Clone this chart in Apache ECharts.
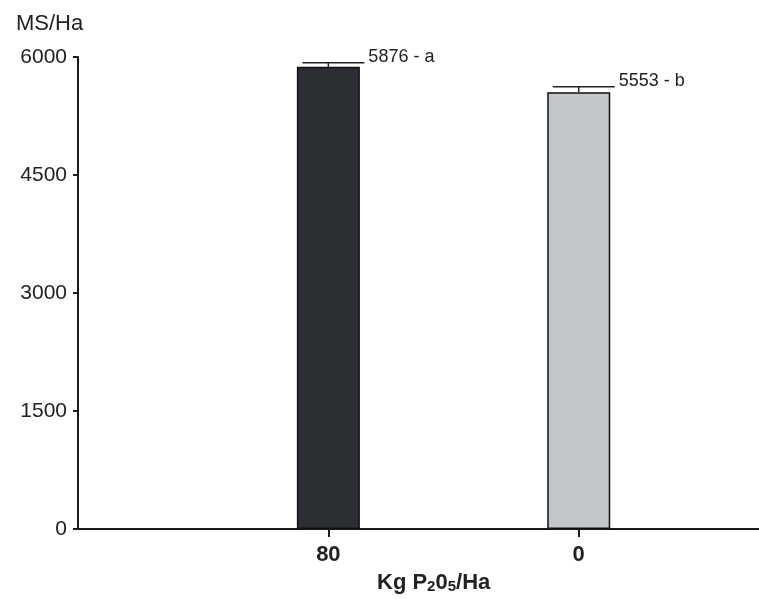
<!DOCTYPE html>
<html>
<head>
<meta charset="utf-8">
<script src="https://cdn.jsdelivr.net/npm/echarts@6/dist/echarts.min.js"></script>
<style>html,body{margin:0;padding:0;background:#fff;overflow:hidden}#c{width:759px;height:599px}</style>
</head>
<body>
<div id="c"></div>
<script>
var categories = ['80', '0'];
var values = [5876, 5553];
var errors = [50, 70];
var labels = ['5876 - a', '5553 - b'];
var barColors = ['#2b2f33', '#c2c6ca'];
var yTicks = [0, 1500, 3000, 4500, 6000];

var chart = echarts.init(document.getElementById('c'), null, {renderer: 'canvas'});
var font = '"Liberation Sans", Arial, sans-serif';

// category i is placed at position i+1 on the x axis
var positions = categories.map(function (c, i) { return i + 1; });
var barData = values.map(function (v, i) {
  return {value: [positions[i], v], itemStyle: {color: barColors[i]}};
});
var errData = values.map(function (v, i) {
  return [positions[i], v, errors[i], labels[i]];
});

chart.setOption({
  animation: false,
  backgroundColor: '#ffffff',
  title: [
    {
      text: 'MS/Ha', left: 11, top: 8,
      textStyle: {fontFamily: font, fontSize: 22, fontWeight: 'normal', color: '#222'}
    },
    {
      text: '{a|Kg P}{s|2}{a|0}{s|5}{a|/Ha}', left: 372, top: 563,
      textStyle: {
        rich: {
          a: {fontFamily: font, fontSize: 22, fontWeight: 'bold', color: '#222', verticalAlign: 'bottom', lineHeight: 26},
          s: {fontFamily: font, fontSize: 15, fontWeight: 'bold', color: '#222', verticalAlign: 'bottom', lineHeight: 22}
        }
      }
    }
  ],
  grid: {left: 78, top: 57, bottom: 70, right: 0, containLabel: false},
  xAxis: {
    type: 'value',
    min: 0, max: 2.72, interval: 1,
    axisLine: {show: true, lineStyle: {color: '#1a1a1a', width: 2}},
    axisTick: {show: true, length: 8, lineStyle: {color: '#1a1a1a', width: 2}, customValues: positions},
    axisLabel: {fontFamily: font, fontSize: 22, fontWeight: 'bold', color: '#222', margin: 15,
      customValues: positions,
      formatter: function (v) { var k = Math.round(v) - 1; return categories[k] !== undefined ? categories[k] : ''; }},
    splitLine: {show: false}
  },
  yAxis: {
    type: 'value',
    min: 0, max: 6000, interval: 1500,
    axisLine: {show: true, lineStyle: {color: '#1a1a1a', width: 2}},
    axisTick: {show: true, length: 5, lineStyle: {color: '#1a1a1a', width: 2}},
    axisLabel: {fontFamily: font, fontSize: 21, color: '#222', margin: 11,
      formatter: function (v) { return yTicks.indexOf(v) >= 0 ? String(v) : ''; }},
    splitLine: {show: false}
  },
  series: [
    {
      type: 'bar',
      data: barData,
      barWidth: 63,
      itemStyle: {borderColor: '#111', borderWidth: 1.5},
      z: 2
    },
    {
      type: 'custom',
      data: errData,
      z: 3,
      renderItem: function (params, api) {
        var x = api.value(0);
        var top = api.coord([x, api.value(1)]);
        var cap = api.coord([x, api.value(1) + api.value(2)]);
        var cx = top[0];
        return {
          type: 'group',
          children: [
            {type: 'line', shape: {x1: cx, y1: top[1], x2: cx, y2: cap[1]},
              style: {stroke: '#222', lineWidth: 1.5}},
            {type: 'line', shape: {x1: cx - 26, y1: cap[1], x2: cx + 36, y2: cap[1]},
              style: {stroke: '#222', lineWidth: 1.5}},
            {type: 'text', x: cx + 40, y: cap[1] + 3,
              style: {text: labels[params.dataIndex], fill: '#222', font: '18px ' + font,
                textAlign: 'left', textVerticalAlign: 'bottom'}}
          ]
        };
      }
    }
  ]
});
</script>
</body>
</html>
